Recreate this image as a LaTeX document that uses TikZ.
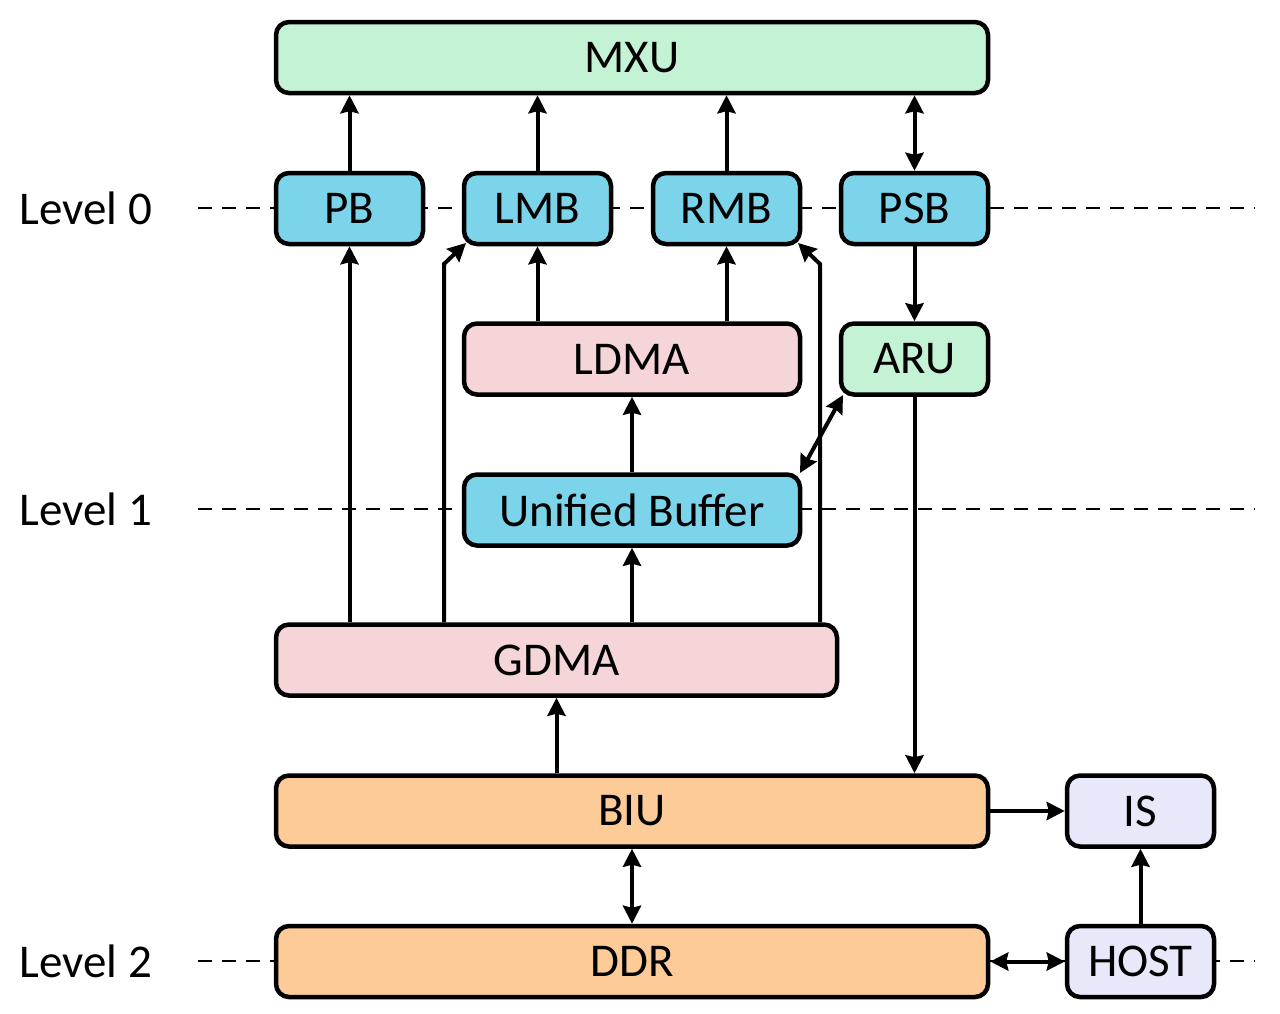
\documentclass[tikz,border=0pt]{standalone}
\usepackage{fontspec}
\setmainfont{Carlito}
\usetikzlibrary{arrows.meta}
\definecolor{cgreen}{HTML}{C3F2D5}
\definecolor{cblue}{HTML}{7CD4EA}
\definecolor{cpink}{HTML}{F5D5D8}
\definecolor{corange}{HTML}{FDCB98}
\definecolor{clav}{HTML}{E8E8FB}
\tikzset{
  box/.style={draw=black, line width=4.5pt, rounded corners=13pt, inner sep=0pt,
    minimum height=71pt, font=\fontsize{47}{56}\selectfont},
  small/.style={box, minimum width=147pt},
  arr/.style={line width=4pt, -{Stealth[length=18pt,width=18pt,inset=2pt]}},
  darr/.style={line width=4pt, {Stealth[length=18pt,width=18pt,inset=2pt]}-{Stealth[length=18pt,width=18pt,inset=2pt]}},
  lvl/.style={line width=1.6pt, dash pattern=on 14pt off 10pt},
  lbl/.style={font=\fontsize{47}{56}\selectfont, inner sep=0pt}
}
\begin{document}
\begin{tikzpicture}[x=1pt,y=-1pt]
\useasboundingbox (0,0) rectangle (1280,1013);
% level lines
\draw[lvl] (198,208) -- (1255,208);
\draw[lvl] (198,509) -- (1255,509);
\draw[lvl] (198,961) -- (1255,961);
\node[lbl] (l0) at (86,208) {Level 0};
\node[lbl] (l1) at (86,509) {Level 1};
\node[lbl] (l2) at (86,961) {Level 2};
% boxes
\node[box, fill=cgreen, minimum width=712pt] (mxu) at (632,57.5) {MXU};
\node[small, fill=cblue] (pb) at (349.5,208.5) {PB};
\node[small, fill=cblue] (lmb) at (537.5,208.5) {LMB};
\node[small, fill=cblue] (rmb) at (726.5,208.5) {RMB};
\node[small, fill=cblue] (psb) at (914.5,208.5) {PSB};
\node[box, fill=cpink, minimum width=336pt] (ldma) at (632,359) {LDMA};
\node[small, fill=cgreen] (aru) at (914.5,359) {ARU};
\node[box, fill=cblue, minimum width=336pt] (ub) at (632,510) {Unified Buffer};
\node[box, fill=cpink, minimum width=561pt] (gdma) at (556.5,660) {GDMA};
\node[box, fill=corange, minimum width=712pt] (biu) at (632,811) {BIU};
\node[small, fill=clav] (is) at (1140.5,811) {IS};
\node[box, fill=corange, minimum width=712pt] (ddr) at (632,961.5) {DDR};
\node[small, fill=clav] (host) at (1140.5,961.5) {HOST};
% helper coordinates
\coordinate (lmbc) at (466,243);
\coordinate (rmbc) at (798,243);
\coordinate (aruc) at (843,395);
\coordinate (ubc) at (800,473);
% arrows
\draw[arr] (pb.north) -- (pb.north |- mxu.south);
\draw[arr] (lmb.north) -- (lmb.north |- mxu.south);
\draw[arr] (rmb.north) -- (rmb.north |- mxu.south);
\draw[darr] (psb.north |- mxu.south) -- (psb.north);
\draw[arr] (psb.south) -- (aru.north);
\draw[arr] (aru.south) -- (aru.south |- biu.north);
\draw[arr] (ldma.north -| lmb.south) -- (lmb.south);
\draw[arr] (ldma.north -| rmb.south) -- (rmb.south);
\draw[arr] (ub.north) -- (ldma.south);
\draw[darr] (aruc) -- (ubc);
\draw[arr] (gdma.north -| pb.south) -- (pb.south);
\draw[arr] (gdma.north -| 444,0) -- (444,264) -- (lmbc);
\draw[arr] (gdma.north -| ub.south) -- (ub.south);
\draw[arr] (gdma.north -| 820,0) -- (820,264) -- (rmbc);
\draw[arr] (biu.north -| gdma.south) -- (gdma.south);
\draw[darr] (biu.south) -- (ddr.north);
\draw[arr] (biu.east) -- (is.west);
\draw[darr] (ddr.east) -- (host.west);
\draw[arr] (host.north) -- (is.south);
\end{tikzpicture}
\end{document}
